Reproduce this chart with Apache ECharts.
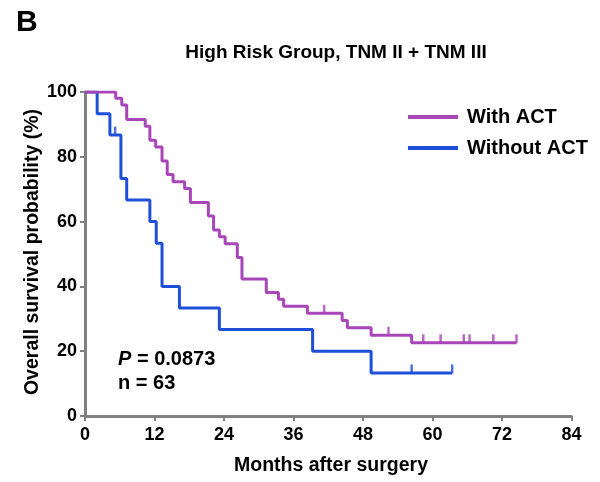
<!DOCTYPE html>
<html>
<head>
<meta charset="utf-8">
<script src="https://cdn.jsdelivr.net/npm/echarts@6/dist/echarts.min.js"></script>
<style>
html, body { margin: 0; padding: 0; background: #fff; }
#main { width: 600px; height: 482px; }
</style>
</head>
<body>
<div id="main"></div>
<script>
// Kaplan-Meier steps (months, survival %)
var withActTimes = [0, 5.3, 6.35, 7.2, 10.4, 11.2, 12.2, 13.3, 14.2, 15.2, 17.2, 18.2, 21.3, 22.2, 23.2, 24.2, 26.3, 27.1, 31.3, 33.4, 34.3, 38.4, 44.4, 45.3, 49.4, 56.4, 74.5];
var withActSurv  = [100, 98.1, 96.0, 91.5, 89.4, 85.1, 83.0, 78.7, 74.5, 72.3, 70.2, 65.9, 61.7, 57.4, 55.3, 53.2, 48.9, 42.3, 38.1, 36.0, 33.9, 31.7, 29.5, 27.2, 24.9, 22.6, 22.6];
var withActCensorTimes = [41.3, 52.4, 58.4, 61.4, 65.4, 66.4, 70.5, 74.5];
var withActCensorSurv  = [31.7, 24.9, 22.6, 22.6, 22.6, 22.6, 22.6, 22.6];

var withoutActTimes = [0, 2.1, 4.3, 6.2, 7.2, 11.2, 12.3, 13.3, 16.3, 23.2, 39.3, 49.4, 63.4];
var withoutActSurv  = [100, 93.3, 86.7, 73.3, 66.7, 60.0, 53.3, 40.0, 33.3, 26.7, 20.0, 13.3, 13.3];
var withoutActCensorTimes = [5.2, 56.4, 63.4];
var withoutActCensorSurv  = [86.7, 13.3, 13.3];

var xTicks = [0, 12, 24, 36, 48, 60, 72, 84];
var yTicks = [0, 20, 40, 60, 80, 100];

var purple = '#a845b8';
var blue = '#1f4fd8';
var axisGray = '#808080';
var font = '"Liberation Sans", Arial, sans-serif';

function pairs(xs, ys) {
    var out = [];
    for (var i = 0; i < xs.length; i++) {
        out.push([xs[i], ys[i]]);
    }
    return out;
}

var myChart = echarts.init(document.getElementById('main'));
var option = {
    backgroundColor: '#fff',
    animation: false,
    textStyle: { fontFamily: font },
    title: [{
        text: 'B',
        left: 11,
        top: 3,
        textStyle: { fontSize: 30, fontWeight: 'bold', color: '#000', fontFamily: font }
    }, {
        text: 'High Risk Group, TNM II + TNM III',
        left: 331,
        top: 38,
        textAlign: 'center',
        textStyle: { fontSize: 19, fontWeight: 'bold', color: '#000', fontFamily: font }
    }],
    legend: {
        orient: 'vertical',
        left: 408,
        top: 107,
        padding: 0,
        itemGap: 11,
        itemWidth: 50,
        itemHeight: 4,
        icon: 'rect',
        data: ['With ACT', 'Without ACT'],
        textStyle: { fontSize: 20, fontWeight: 'bold', color: '#000', padding: [0, 0, 0, 4], fontFamily: font }
    },
    grid: {
        left: 85,
        right: 28.5,
        top: 92,
        bottom: 66,
        containLabel: false,
        outerBoundsMode: 'none'
    },
    xAxis: {
        type: 'value',
        min: 0,
        max: 84,
        interval: 12,
        axisLine: { show: true, onZero: false, lineStyle: { color: axisGray, width: 3 } },
        axisTick: { show: true, length: 5, lineStyle: { color: axisGray, width: 2 } },
        axisLabel: {
            margin: 10,
            fontSize: 18,
            fontWeight: 'bold',
            color: '#000',
            fontFamily: font,
            customValues: xTicks
        },
        splitLine: { show: false }
    },
    yAxis: {
        type: 'value',
        min: 0,
        max: 100,
        interval: 20,
        axisLine: { show: true, onZero: false, lineStyle: { color: axisGray, width: 3 } },
        axisTick: { show: true, length: 5, lineStyle: { color: axisGray, width: 2 } },
        axisLabel: {
            margin: 8,
            fontSize: 18,
            fontWeight: 'bold',
            color: '#000',
            fontFamily: font,
            customValues: yTicks
        },
        splitLine: { show: false }
    },
    graphic: [{
        type: 'text',
        rotation: Math.PI / 2,
        x: 33,
        y: 252,
        style: {
            text: 'Overall survival probability (%)',
            font: 'bold 19.5px ' + font,
            fill: '#000',
            textAlign: 'center',
            textVerticalAlign: 'middle'
        }
    }, {
        type: 'text',
        x: 331,
        y: 466,
        style: {
            text: 'Months after surgery',
            font: 'bold 19.5px ' + font,
            fill: '#000',
            textAlign: 'center',
            textVerticalAlign: 'middle'
        }
    }, {
        type: 'text',
        x: 118,
        y: 359,
        style: {
            text: '{i|P} = 0.0873',
            font: 'bold 20px ' + font,
            fill: '#000',
            textVerticalAlign: 'middle',
            rich: {
                i: { fontStyle: 'italic', fontWeight: 'bold', fontSize: 20, fontFamily: font }
            }
        }
    }, {
        type: 'text',
        x: 118,
        y: 383,
        style: {
            text: 'n = 63',
            font: 'bold 20px ' + font,
            fill: '#000',
            textVerticalAlign: 'middle'
        }
    }],
    series: [{
        name: 'With ACT',
        type: 'line',
        step: 'end',
        showSymbol: false,
        color: purple,
        lineStyle: { width: 3, color: purple },
        data: pairs(withActTimes, withActSurv),
        z: 3
    }, {
        name: 'Without ACT',
        type: 'line',
        step: 'end',
        showSymbol: false,
        color: blue,
        lineStyle: { width: 3, color: blue },
        data: pairs(withoutActTimes, withoutActSurv),
        z: 2
    }, {
        name: 'With ACT censored',
        type: 'scatter',
        symbol: 'rect',
        symbolSize: [2.5, 9],
        symbolOffset: [0, -4],
        itemStyle: { color: purple },
        data: pairs(withActCensorTimes, withActCensorSurv),
        z: 3
    }, {
        name: 'Without ACT censored',
        type: 'scatter',
        symbol: 'rect',
        symbolSize: [2.5, 9],
        symbolOffset: [0, -4],
        itemStyle: { color: blue },
        data: pairs(withoutActCensorTimes, withoutActCensorSurv),
        z: 2
    }]
};

myChart.setOption(option);
</script>
</body>
</html>
